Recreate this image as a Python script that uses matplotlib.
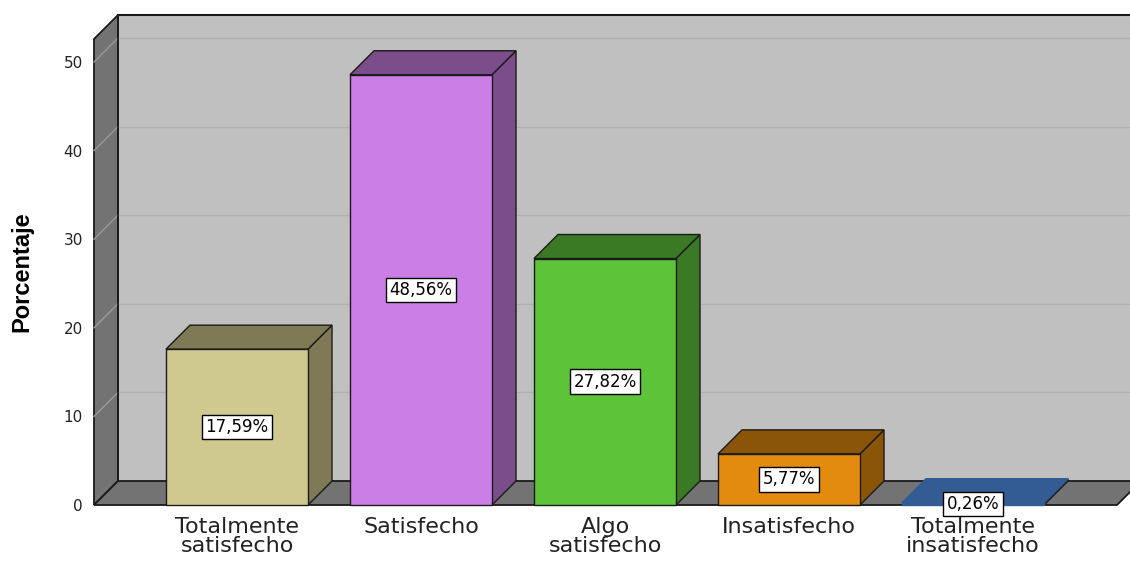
import matplotlib
matplotlib.use("Agg")
import matplotlib.pyplot as plt
from matplotlib.patches import Polygon

categories = ["Totalmente\nsatisfecho", "Satisfecho", "Algo\nsatisfecho", "Insatisfecho", "Totalmente\ninsatisfecho"]
values = [17.59, 48.56, 27.82, 5.77, 0.26]
value_labels = ["17,59%", "48,56%", "27,82%", "5,77%", "0,26%"]
yticks = [0, 10, 20, 30, 40, 50]

front_colors = ["#d0c98f", "#cb7fe6", "#5dc43a", "#e38b0e", "#335c94"]
side_colors = ["#7f7a55", "#7b4e8b", "#3a7a25", "#8b5508", "#335c94"]

W, H = 1130, 562
fig = plt.figure(figsize=(W / 100, H / 100), dpi=100)
left_px, right_px, bottom_px, top_px = 94, 1130, 505, 15
ax = fig.add_axes([left_px / W, (H - bottom_px) / H, (right_px - left_px) / W, (bottom_px - top_px) / H])

px_per_cat = 184.0
px_per_unit = 8.86
x0 = -(237 - left_px) / px_per_cat
x1 = x0 + (right_px - left_px) / px_per_cat
ytop = (bottom_px - top_px) / px_per_unit
ax.set_xlim(x0, x1)
ax.set_ylim(0, ytop)
for s in ax.spines.values():
    s.set_visible(False)
ax.set_facecolor("none")

depth_px = 24
dx = depth_px / px_per_cat
dy = depth_px / px_per_unit
floor_right = x0 + (1117 - left_px) / px_per_cat

edge = "#1a1a1a"
# back wall
ax.add_patch(Polygon([(x0 + dx, dy), (x1 + 0.2, dy), (x1 + 0.2, ytop), (x0 + dx, ytop)],
                     closed=True, facecolor="#c0c0c0", edgecolor="none", zorder=1, clip_on=False))
ax.plot([x0 + dx, x1 + 0.2], [ytop, ytop], color=edge, lw=1.5, zorder=2, clip_on=False)
# left wall
ax.add_patch(Polygon([(x0, 0), (x0, ytop - dy), (x0 + dx, ytop), (x0 + dx, dy)],
                     closed=True, facecolor="#737373", edgecolor=edge, lw=1.3, zorder=1, clip_on=False))
# floor
ax.add_patch(Polygon([(x0, 0), (floor_right, 0), (floor_right + dx, dy), (x0 + dx, dy)],
                     closed=True, facecolor="#737373", edgecolor=edge, lw=1.3, zorder=1, clip_on=False))
ax.plot([x0 + dx, x0 + dx], [dy, ytop], color=edge, lw=1.2, zorder=2, clip_on=False)

# gridlines
for t in yticks[1:]:
    ax.plot([x0 + dx, x1 + 0.2], [t + dy, t + dy], color="#aeaeae", lw=1.0, zorder=1.5, clip_on=False)
    ax.plot([x0, x0 + dx], [t, t + dy], color="#9a9a9a", lw=1.0, zorder=1.5, clip_on=False)

half = 71 / px_per_cat
for i, (v, fc, sc) in enumerate(zip(values, front_colors, side_colors)):
    xl, xr = i - half, i + half
    z = 3 + i
    # side face
    ax.add_patch(Polygon([(xr, 0), (xr + dx, dy), (xr + dx, v + dy), (xr, v)],
                         closed=True, facecolor=sc, edgecolor=edge, lw=1.0, zorder=z, clip_on=False))
    # top face
    ax.add_patch(Polygon([(xl, v), (xr, v), (xr + dx, v + dy), (xl + dx, v + dy)],
                         closed=True, facecolor=sc, edgecolor=edge if v > 1 else sc, lw=1.0, zorder=z, clip_on=False))
    # front face
    ax.add_patch(Polygon([(xl, 0), (xr, 0), (xr, v), (xl, v)],
                         closed=True, facecolor=fc, edgecolor=edge if v > 1 else fc, lw=1.0, zorder=z + 0.1, clip_on=False))
    ax.text(i, v / 2, value_labels[i], ha="center", va="center", fontsize=12, color="black",
            family="DejaVu Sans", zorder=20,
            bbox=dict(boxstyle="square,pad=0.2", facecolor="white", edgecolor="black", lw=1.0))
    ax.annotate(categories[i], xy=(i, 0), xytext=(0, -8.5), textcoords="offset points",
                ha="center", va="top", fontsize=16, color="#222222", family="DejaVu Sans",
                linespacing=0.93, annotation_clip=False)

ax.set_xticks([])
ax.set_yticks(yticks)
ax.set_yticklabels([str(t) for t in yticks], fontsize=11, family="DejaVu Sans", color="#222222")
ax.tick_params(axis="y", length=0, pad=8)
fig.text(22 / W, 1 - 272 / H, "Porcentaje", rotation=90, ha="center", va="center",
         fontsize=17, fontweight="bold", family="Liberation Sans", color="black")

fig.savefig("out.png", dpi=100, facecolor="white")
